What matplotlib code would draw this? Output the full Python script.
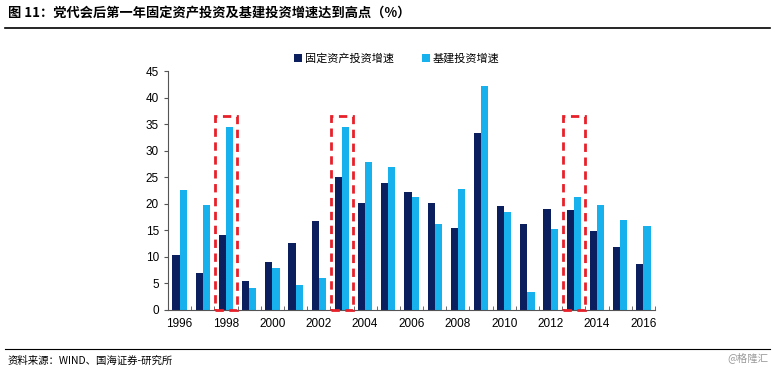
import matplotlib
matplotlib.use("Agg")
import matplotlib.pyplot as plt
from matplotlib.patches import Rectangle
from matplotlib.lines import Line2D
import numpy as np

plt.rcParams['font.family'] = ['Liberation Sans', 'Noto Sans CJK SC', 'DejaVu Sans']

years = list(range(1996, 2017))
fixed_asset = [10.4, 7.0, 14.1, 5.4, 9.0, 12.7, 16.7, 25.0, 20.1, 24.0, 22.2,
               20.1, 15.5, 33.3, 19.6, 16.1, 19.0, 18.9, 14.8, 11.9, 8.7]
infra = [22.6, 19.8, 34.5, 4.1, 7.9, 4.8, 6.0, 34.5, 27.8, 27.0, 21.3,
         16.2, 22.7, 42.2, 18.5, 3.3, 15.3, 21.3, 19.8, 17.0, 15.8]
series_names = ['固定资产投资增速', '基建投资增速']
highlight_years = [1998, 2003, 2013]
highlight_top = 36.5
title = '图 11：党代会后第一年固定资产投资及基建投资增速达到高点（%）'
source = '资料来源：WIND、国海证券-研究所'
watermark = '@格隆汇'

dark = '#0b1f5e'
light = '#17b2ee'

fig = plt.figure(figsize=(7.75, 3.73), dpi=100)
ax = fig.add_axes([168/775, 1-310/373, (655-168)/775, (310-71)/373])

x = np.arange(len(years))
w = 0.31
ax.bar(x - w/2, fixed_asset, width=w, color=dark, label=series_names[0])
ax.bar(x + w/2, infra, width=w, color=light, label=series_names[1])

for hy in highlight_years:
    i = years.index(hy)
    ax.add_patch(Rectangle((i - 0.48, 0), 0.96, highlight_top, fill=False,
                           edgecolor='#e8202a', linestyle=(0, (3, 2)), linewidth=2,
                           clip_on=False, zorder=5))

ax.set_xlim(-0.5, len(years) - 0.5)
ax.set_ylim(0, 45)
ax.set_yticks(np.arange(0, 46, 5))
ax.set_xticks(x[::2])
ax.set_xticklabels([str(y) for y in years[::2]])
ax.set_xticks(np.arange(-0.5, len(years), 1), minor=True)
ax.tick_params(axis='x', which='major', length=0, labelsize=8.5, pad=6)
ax.tick_params(axis='x', which='minor', length=3, direction='in', color='#555555')
ax.tick_params(axis='y', length=3, direction='out', labelsize=8.5, color='#555555')
for s in ['top', 'right']:
    ax.spines[s].set_visible(False)
ax.spines['left'].set_color('#555555')
ax.spines['bottom'].set_color('#555555')

ax.legend(loc='upper center', bbox_to_anchor=(0.47, 1.115), ncol=2, frameon=False,
          fontsize=8, handlelength=0.7, handleheight=0.7, handletextpad=0.3,
          columnspacing=2.5)

fig.text(8/775, 1-13/373, title, fontsize=9.5, fontweight='bold', va='center', ha='left',
         family=['Noto Sans CJK SC', 'DejaVu Sans'])
fig.add_artist(Line2D([5/775, 770/775], [1-28/373, 1-28/373], color='black', linewidth=1.2))
fig.add_artist(Line2D([5/775, 770/775], [1-349/373, 1-349/373], color='black', linewidth=0.8))
fig.text(8/775, 1-361/373, source, fontsize=7.5, va='center', ha='left',
         family=['Noto Sans CJK SC', 'DejaVu Sans'])
fig.text(768/775, 1-358/373, watermark, fontsize=7.5, va='center', ha='right', color='#999999',
         family=['Noto Sans CJK SC', 'DejaVu Sans'])

fig.savefig('out.png', dpi=100)
